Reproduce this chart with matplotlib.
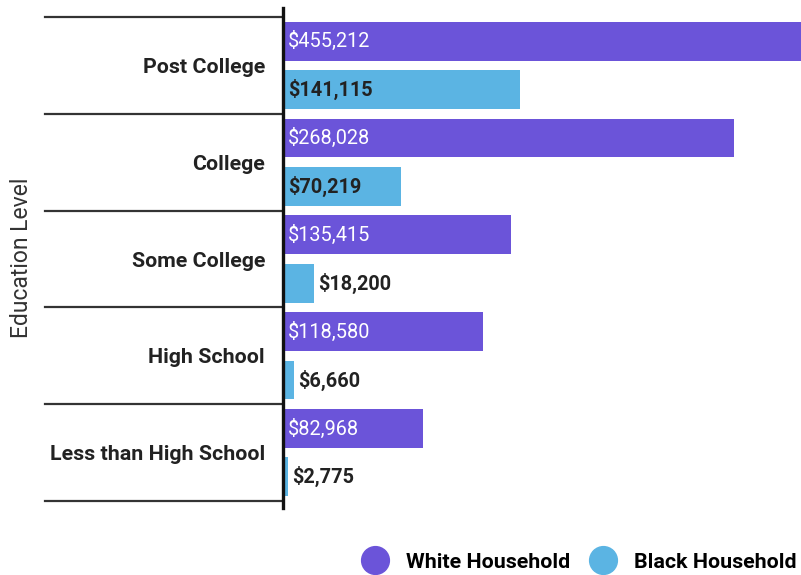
import matplotlib.pyplot as plt
from matplotlib.lines import Line2D
import matplotlib.transforms as mtransforms

# Median household wealth by education level
levels = ['Post College', 'College', 'Some College', 'High School', 'Less than High School']
white_wealth = [455212, 268028, 135415, 118580, 82968]
black_wealth = [141115, 70219, 18200, 6660, 2775]

purple = '#6B54D9'
blue = '#5BB4E3'
ink = '#222222'

plt.rcParams['font.family'] = ['Roboto', 'DejaVu Sans']

W, H = 801, 575
fig = plt.figure(figsize=(W / 100, H / 100), dpi=100)
ax = fig.add_axes([283 / W, (H - 508) / H, 518 / W, 500 / H])

y = list(range(len(levels)))
bar_h = 0.40
off = 0.25
ax.barh([i - off for i in y], white_wealth, height=bar_h, color=purple)
ax.barh([i + off for i in y], black_wealth, height=bar_h, color=blue)

ax.set_xlim(0, 307800)
ax.set_ylim(4.572, -0.593)

# value labels: white text inside the purple bars, blue ones inside if they fit
pad = 5 * 307800 / 518
for i, v in enumerate(white_wealth):
    ax.text(pad, i - off, f'${v:,}', color='white', fontsize=14.3, va='center', ha='left')
for i, v in enumerate(black_wealth):
    if v > 50000:
        ax.text(pad, i + off, f'${v:,}', color=ink, fontsize=14.3, fontweight='bold',
                va='center', ha='left')
    else:
        ax.text(v + 4 * 307800 / 518, i + off, f'${v:,}', color=ink, fontsize=14.3,
                fontweight='bold', va='center', ha='left')

# group separators drawn to the left of the axis
trans = mtransforms.blended_transform_factory(ax.transAxes, ax.transData)
for b in [i - 0.5 for i in range(len(levels) + 1)]:
    ax.plot([-0.46, 0], [b, b], transform=trans, clip_on=False, color='#333333', lw=1.6)

for side in ['top', 'right', 'bottom']:
    ax.spines[side].set_visible(False)
ax.spines['left'].set_linewidth(2.4)
ax.spines['left'].set_color('#111111')

ax.set_xticks([])
ax.set_yticks(y)
ax.set_yticklabels(levels, fontsize=15.4, fontweight='bold', color=ink)
ax.tick_params(axis='y', length=0, pad=13)

fig.text(22 / W, 0.5 * ((H - 8) + (H - 508)) / H, 'Education Level', rotation=90,
         ha='center', va='center', fontsize=16.5, color='#333333')

handles = [Line2D([], [], marker='o', ls='', color=purple, markersize=20),
           Line2D([], [], marker='o', ls='', color=blue, markersize=20)]
fig.legend(handles, ['White Household', 'Black Household'], loc='center right',
           bbox_to_anchor=(0.994, 13 / H), ncol=2, frameon=False,
           prop={'family': 'Roboto', 'weight': 'bold', 'size': 15.4},
           handletextpad=0.8, columnspacing=0.85, borderaxespad=0, borderpad=0,
           handlelength=1.3)

fig.savefig('out.png', dpi=100)
